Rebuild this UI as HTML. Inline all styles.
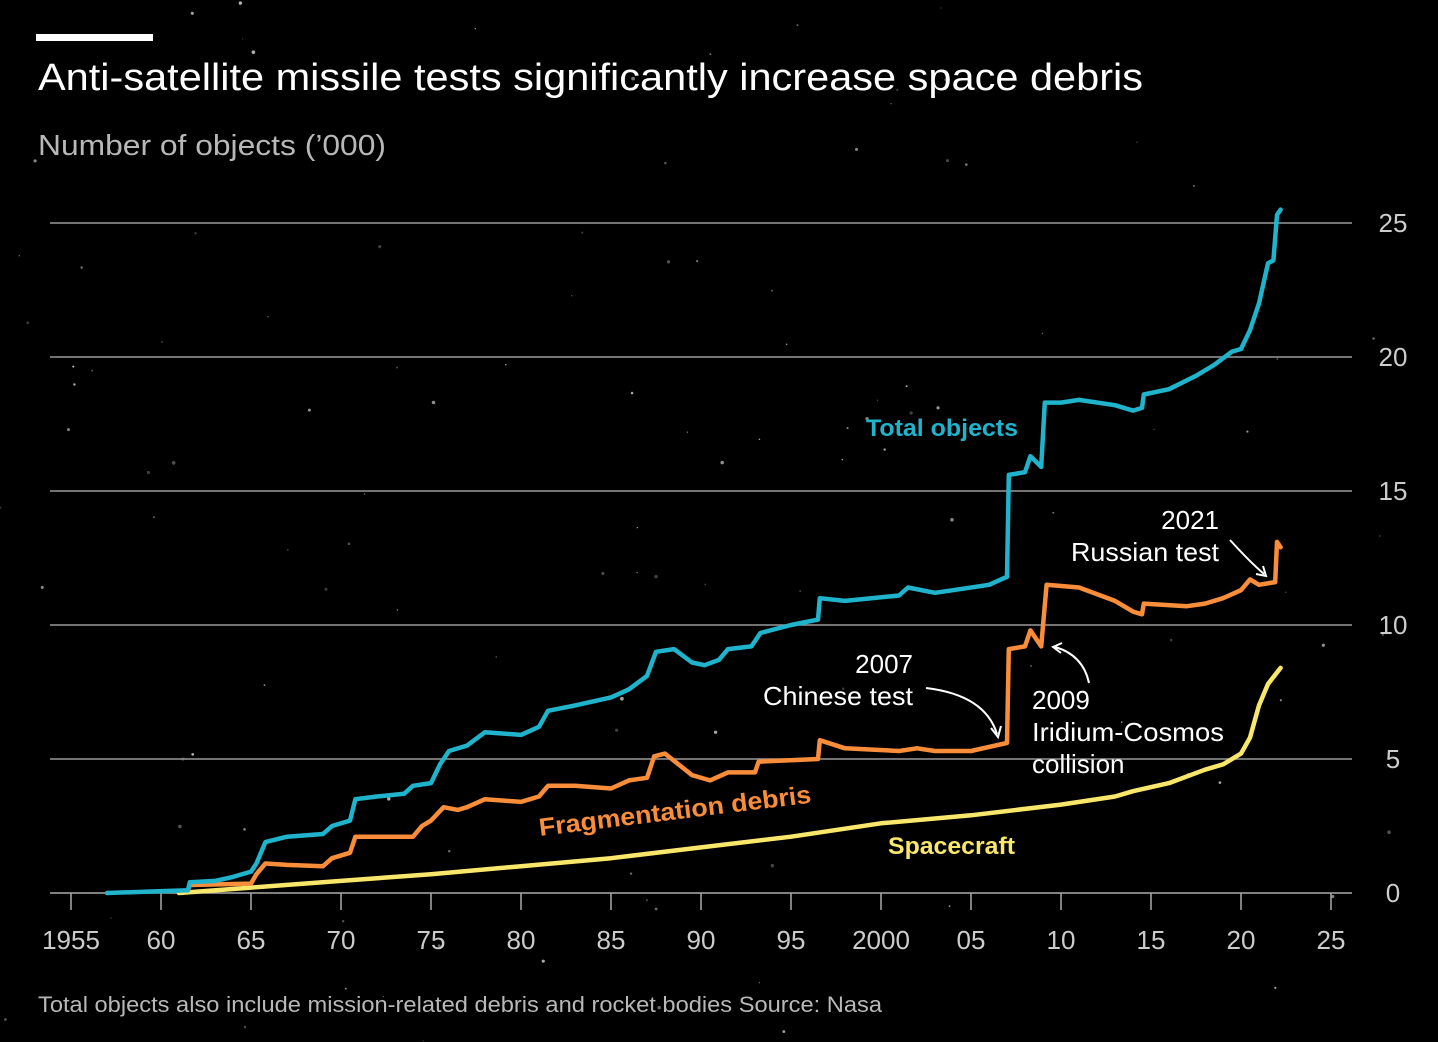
<!DOCTYPE html>
<html><head><meta charset="utf-8"><style>
body{margin:0;background:#000;}
svg{display:block;font-family:"Liberation Sans",sans-serif;}
</style></head><body>
<svg id="c" width="1438" height="1042" viewBox="0 0 1438 1042">
<rect width="1438" height="1042" fill="#000"/>
<g id="stars"></g>
<rect x="36" y="34" width="117" height="7" fill="#fff"/>
<text x="38" y="90" font-size="38" fill="#fff" textLength="1105" lengthAdjust="spacingAndGlyphs">Anti-satellite missile tests significantly increase space debris</text>
<text x="38" y="155" font-size="29" fill="#b8b8b8" textLength="348" lengthAdjust="spacingAndGlyphs">Number of objects (’000)</text>
<g id="grid"></g><g id="xaxis"></g><g id="lines"></g>
<text x="866" y="436" font-size="24" font-weight="bold" fill="#1fb3cc" textLength="152" lengthAdjust="spacingAndGlyphs">Total objects</text>
<text x="540" y="836" font-size="25" font-weight="bold" fill="#f98d3a" textLength="274" lengthAdjust="spacingAndGlyphs" transform="rotate(-7 540 836)">Fragmentation debris</text>
<text x="888" y="854" font-size="24" font-weight="bold" fill="#f9e76b" textLength="127" lengthAdjust="spacingAndGlyphs">Spacecraft</text>
<g font-size="26" fill="#fff">
<text x="913" y="673" text-anchor="end">2007</text>
<text x="913" y="705" text-anchor="end" textLength="150" lengthAdjust="spacingAndGlyphs">Chinese test</text>
<text x="1032" y="709">2009</text>
<text x="1032" y="741" textLength="192" lengthAdjust="spacingAndGlyphs">Iridium-Cosmos</text>
<text x="1032" y="773">collision</text>
<text x="1219" y="529" text-anchor="end">2021</text>
<text x="1219" y="561" text-anchor="end" textLength="148" lengthAdjust="spacingAndGlyphs">Russian test</text>
</g>
<g fill="none" stroke="#fff" stroke-width="2">
<path d="M926 688 Q985 695 997 734"/><path d="M991 728 L998 737 L1001 726" />
<path d="M1089 683 Q1083 655 1055 647"/><path d="M1062 643 L1053 647 L1061 653"/>
<path d="M1230 540 Q1250 562 1264 574"/><path d="M1256 574 L1266 576 L1263 566"/>
</g>
<text x="38" y="1012" font-size="22" fill="#b8b8b8" textLength="844" lengthAdjust="spacingAndGlyphs">Total objects also include mission-related debris and rocket bodies   Source: Nasa</text>
</svg>
<script>
const yTicks=[0,5,10,15,20,25];
const xTickYears=[1955,1960,1965,1970,1975,1980,1985,1990,1995,2000,2005,2010,2015,2020,2025];
const xTickLabels=["1955","60","65","70","75","80","85","90","95","2000","05","10","15","20","25"];
const totalYears=[1957,1961.5,1961.6,1963,1964,1965,1965.3,1965.8,1967,1969,1969.5,1970.5,1970.8,1972,1973.5,1974,1975,1975.5,1976,1977,1978,1980,1981,1981.5,1983,1985,1986,1987,1987.5,1988.5,1989.5,1990.2,1991,1991.5,1992.8,1993.3,1995,1996.5,1996.6,1998,2001,2001.5,2003,2004,2006,2007,2007.1,2008,2008.3,2008.9,2009.1,2010,2011,2013,2014,2014.5,2014.6,2016,2017.5,2018.5,2019.5,2020,2020.5,2021,2021.5,2021.8,2022.0,2022.2];
const totalVals=[0,0.1,0.4,0.45,0.6,0.8,1.1,1.9,2.1,2.2,2.5,2.7,3.5,3.6,3.7,4.0,4.1,4.8,5.3,5.5,6.0,5.9,6.2,6.8,7.0,7.3,7.6,8.1,9.0,9.1,8.6,8.5,8.7,9.1,9.2,9.7,10.0,10.2,11.0,10.9,11.1,11.4,11.2,11.3,11.5,11.8,15.6,15.7,16.3,15.9,18.3,18.3,18.4,18.2,18.0,18.1,18.6,18.8,19.3,19.7,20.2,20.3,21.0,22.0,23.5,23.6,25.3,25.5];
const fragYears=[1961.5,1961.6,1965,1965.3,1965.8,1967,1969,1969.5,1970.5,1970.8,1974,1974.5,1975,1975.7,1976.5,1977,1978,1980,1981,1981.5,1983,1985,1986,1987,1987.4,1988,1989.5,1990.5,1991.5,1993,1993.2,1996.5,1996.6,1998,2001,2002,2003,2005,2007,2007.1,2008,2008.3,2008.9,2009.2,2011,2013,2014,2014.5,2014.6,2017,2018,2019,2020,2020.5,2021,2021.9,2022.0,2022.2];
const fragVals=[0.1,0.3,0.35,0.7,1.1,1.05,1.0,1.3,1.5,2.1,2.1,2.5,2.7,3.2,3.1,3.2,3.5,3.4,3.6,4.0,4.0,3.9,4.2,4.3,5.1,5.2,4.4,4.2,4.5,4.5,4.9,5.0,5.7,5.4,5.3,5.4,5.3,5.3,5.6,9.1,9.2,9.8,9.2,11.5,11.4,10.9,10.5,10.4,10.8,10.7,10.8,11.0,11.3,11.7,11.5,11.6,13.1,12.9];
const scYears=[1961,1965,1970,1975,1980,1985,1990,1995,2000,2005,2010,2013,2014,2016,2018,2019,2020,2020.5,2021,2021.5,2022.2];
const scVals=[0,0.2,0.45,0.7,1.0,1.3,1.7,2.1,2.6,2.9,3.3,3.6,3.8,4.1,4.6,4.8,5.2,5.8,7.0,7.8,8.4];
const NS="http://www.w3.org/2000/svg";
const x=y=>71+(y-1955)*18;
const y=v=>893-v*26.8;
function mk(t,a,p){const e=document.createElementNS(NS,t);for(const k in a)e.setAttribute(k,a[k]);p.appendChild(e);return e;}
const grid=document.getElementById('grid');
yTicks.forEach(v=>{
  const l=mk('line',{x1:50,x2:1352,y1:y(v),y2:y(v),stroke:v===0?'#aaa':'#999','stroke-width':1.5},grid);
  
  
  const t=mk('text',{x:1393,y:y(v)+9,'font-size':26,fill:'#ccc','text-anchor':'middle'},grid);
  t.textContent=v;
  
  
});
const xa=document.getElementById('xaxis');
xTickYears.forEach((yr,i)=>{
  const l=mk('line',{x1:x(yr),x2:x(yr),y1:893,y2:910,stroke:'#aaa','stroke-width':1.5},xa);
  
  
  const t=mk('text',{x:x(yr),y:949,'font-size':26,fill:'#ccc','text-anchor':'middle'},xa);
  t.textContent=xTickLabels[i];
  
  
});
const lg=document.getElementById('lines');
function line(xs,vs,col,name){
  const d=xs.map((a,i)=>(i?'L':'M')+x(a).toFixed(1)+' '+y(vs[i]).toFixed(1)).join(' ');
  const p=mk('path',{d:d,fill:'none',stroke:col,'stroke-width':4.5,'stroke-linejoin':'round','stroke-linecap':'round'},lg);
  
  
}
line(scYears,scVals,'#f9e76b','spacecraft-line');
line(fragYears,fragVals,'#f98d3a','fragmentation-debris-line');
line(totalYears,totalVals,'#1fb3cc','total-objects-line');
const st=document.getElementById('stars');
let s=7;function r(){s=(s*9301+49297)%233280;return s/233280;}
for(let i=0;i<120;i++){mk('circle',{cx:r()*1438,cy:r()*1042,r:0.6+r()*1.3,fill:'#fff',opacity:0.2+r()*0.5},st);}
</script>
</body></html>
